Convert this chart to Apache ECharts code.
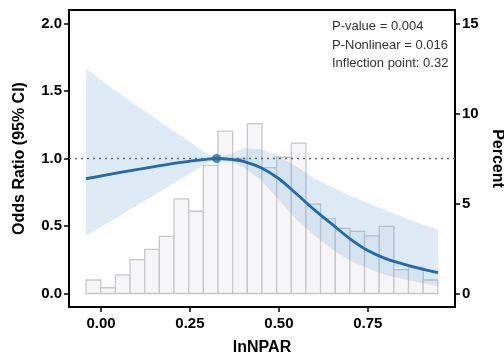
<!DOCTYPE html>
<html>
<head>
<meta charset="utf-8">
<script src="https://cdn.jsdelivr.net/npm/echarts@6.0.0/dist/echarts.min.js"></script>
<style>
  html, body { margin: 0; padding: 0; background: #fff; }
  #chart { width: 504px; height: 359px; }
</style>
</head>
<body>
<div id="chart"></div>
<script>
// histogram of lnNPAR (percent per bin)
const binStart = -0.042
const binWidth = 0.0412
const percent = [0.75, 0.32, 1.03, 1.88, 2.45, 3.17, 5.26, 4.57, 7.12, 9.02, 7.5, 9.44,
  6.99, 7.57, 8.35, 4.97, 4.15, 3.62, 3.45, 3.2, 3.73, 1.33, 1.45, 0.75]

// restricted cubic spline fit
const curveX = [-0.042, 0.05, 0.15, 0.2, 0.25, 0.3, 0.325, 0.375, 0.4, 0.45, 0.5, 0.55,
  0.6, 0.65, 0.7, 0.75, 0.8, 0.85, 0.9, 0.947]
const orFit = [0.85, 0.895, 0.94, 0.962, 0.98, 0.996, 1.0, 0.99, 0.979, 0.932, 0.85, 0.737,
  0.619, 0.512, 0.405, 0.318, 0.258, 0.218, 0.183, 0.154]
const orLower = [0.43, 0.57, 0.729, 0.81, 0.888, 0.967, 0.99, 0.967, 0.935, 0.839, 0.692, 0.547,
  0.429, 0.326, 0.242, 0.187, 0.137, 0.108, 0.078, 0.055]
const orUpper = [1.663, 1.481, 1.302, 1.212, 1.122, 1.033, 1.01, 1.04, 1.078, 1.069, 1.017, 0.939,
  0.852, 0.788, 0.725, 0.669, 0.614, 0.564, 0.514, 0.474]

const inflection = [0.325, 1.0]
const xTicks = [0, 0.25, 0.5, 0.75]
const orTicks = [0, 0.5, 1, 1.5, 2]
const pctTicks = [0, 5, 10, 15]
const notes = ['P-value = 0.004', 'P-Nonlinear = 0.016', 'Inflection point: 0.325']

const font = 'Liberation Sans, Arial, Helvetica, sans-serif'
const bars = percent.map((p, i) => [binStart + i * binWidth, binStart + (i + 1) * binWidth, p])
const band = curveX.map((x, i) => [x, orLower[i], orUpper[i]])

const tickLabel = (vals, fmt) => ({
  customValues: vals, formatter: fmt,
  color: '#000', fontWeight: 'bold', fontSize: 15, fontFamily: font,
})
const axisLine = { onZero: false, lineStyle: { color: '#000', width: 2 } }
const nameStyle = { color: '#000', fontWeight: 'bold', fontSize: 16, fontFamily: font }

const chart = echarts.init(document.getElementById('chart'))
chart.setOption({
  animation: false,
  backgroundColor: '#fff',
  grid: {
    left: 69, right: 49, top: 10, bottom: 52, outerBoundsMode: 'none',
    show: true, borderColor: '#000', borderWidth: 2,
  },
  xAxis: {
    type: 'value', min: -0.09, max: 0.995,
    name: 'lnNPAR', nameLocation: 'middle', nameGap: 33, nameTextStyle: nameStyle,
    axisLine,
    axisTick: { customValues: xTicks, length: 5, lineStyle: { color: '#000', width: 1.5 } },
    axisLabel: { ...tickLabel(xTicks, (v) => v.toFixed(2)), margin: 9 },
    splitLine: { show: false },
  },
  yAxis: [
    {
      type: 'value', min: -0.1, max: 2.1,
      name: 'Odds Ratio (95% CI)', nameLocation: 'middle', nameGap: 41, nameTextStyle: nameStyle,
      axisLine,
      axisTick: { customValues: orTicks, length: 5, lineStyle: { color: '#000', width: 1.5 } },
      axisLabel: { ...tickLabel(orTicks, (v) => v.toFixed(1)), margin: 7 },
      splitLine: { show: false },
    },
    {
      type: 'value', min: -0.75, max: 15.75, position: 'right',
      name: 'Percent', nameLocation: 'middle', nameGap: 32, nameRotate: -90, nameTextStyle: nameStyle,
      axisLine,
      axisTick: { customValues: pctTicks, length: 5, lineStyle: { color: '#000', width: 1.5 } },
      axisLabel: { ...tickLabel(pctTicks, (v) => String(v)), margin: 7 },
      splitLine: { show: false },
    },
  ],
  series: [
    {
      type: 'custom', yAxisIndex: 1, z: 1, silent: true,
      data: bars,
      renderItem: (params, api) => {
        const a = api.coord([api.value(0), 0])
        const b = api.coord([api.value(1), api.value(2)])
        return {
          type: 'rect',
          shape: { x: a[0], y: b[1], width: b[0] - a[0], height: a[1] - b[1] },
          style: { fill: '#f6f5f7', stroke: '#c8c8c8', lineWidth: 1.3 },
        }
      },
    },
    {
      type: 'custom', yAxisIndex: 0, z: 2, silent: true,
      data: band,
      renderItem: (params, api) => {
        if (params.dataIndex !== 0) return null
        const pts = band.map((d) => api.coord([d[0], d[2]]))
          .concat(band.slice().reverse().map((d) => api.coord([d[0], d[1]])))
        return { type: 'polygon', shape: { points: pts }, style: { fill: 'rgba(91,155,213,0.2)' } }
      },
    },
    {
      type: 'line', yAxisIndex: 0, z: 3, smooth: 0.4, showSymbol: false,
      data: curveX.map((x, i) => [x, orFit[i]]),
      lineStyle: { color: '#1b6cb3', width: 2.8 },
      markLine: {
        silent: true, symbol: 'none', label: { show: false },
        lineStyle: { color: '#666', type: [2, 4], width: 1.3 },
        data: [{ yAxis: 1 }],
      },
    },
    {
      type: 'scatter', yAxisIndex: 0, z: 4, symbolSize: 9,
      data: [inflection],
      itemStyle: { color: '#1b6cb3' },
    },
  ],
  graphic: notes.map((t, i) => ({
    type: 'text', left: 332, top: 20 + i * 18.5, z: 10,
    style: {
      text: t, fill: '#333', font: '13px ' + font,
      width: 122, overflow: 'truncate', ellipsis: '',
    },
  })),
})
</script>
</body>
</html>
